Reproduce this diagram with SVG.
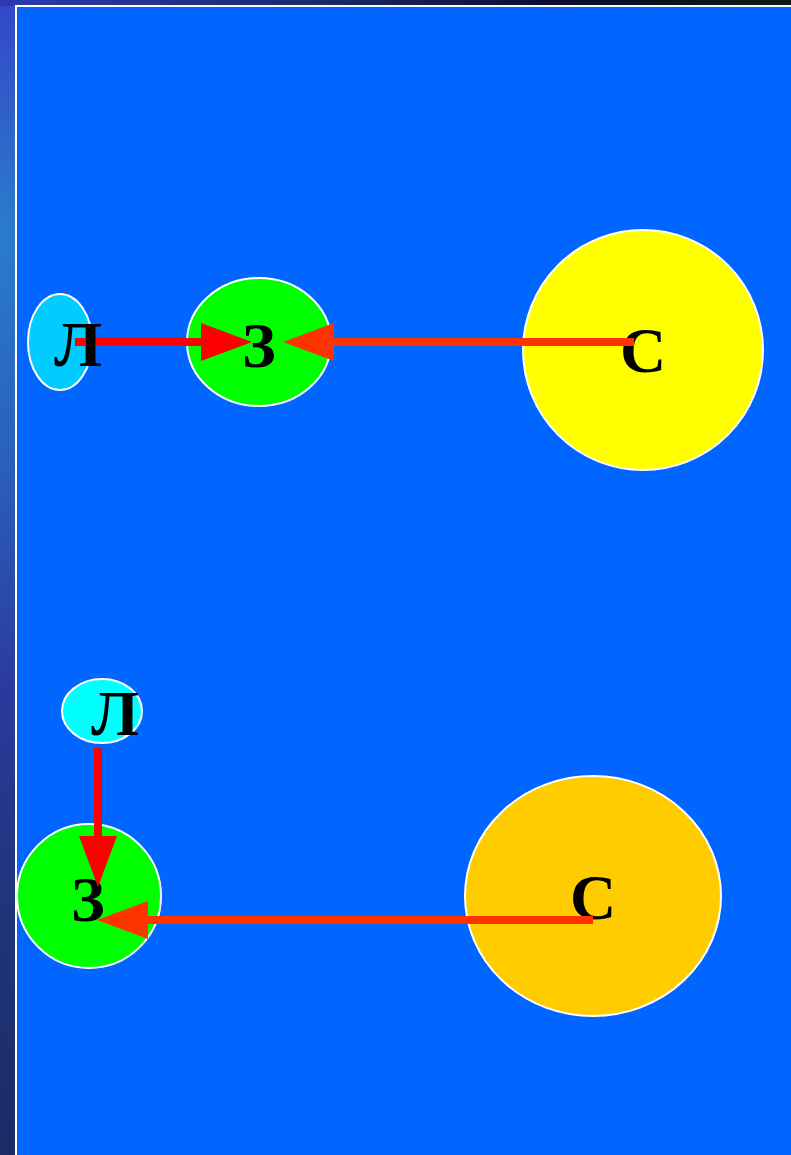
<svg xmlns="http://www.w3.org/2000/svg" width="791" height="1155" viewBox="0 0 791 1155">
  <defs>
    <linearGradient id="leftStrip" x1="0" y1="0" x2="0" y2="1">
      <stop offset="0" stop-color="#3446c8"/>
      <stop offset="0.2" stop-color="#2a7ccc"/>
      <stop offset="0.4" stop-color="#2a60bc"/>
      <stop offset="0.6" stop-color="#2a3a9c"/>
      <stop offset="0.8" stop-color="#1e3478"/>
      <stop offset="1" stop-color="#1c2a66"/>
    </linearGradient>
    <linearGradient id="topStrip" x1="0" y1="0" x2="1" y2="0">
      <stop offset="0" stop-color="#2a3ab0"/>
      <stop offset="0.4" stop-color="#1a2a6a"/>
      <stop offset="0.7" stop-color="#0c0c30"/>
      <stop offset="1" stop-color="#0a1a10"/>
    </linearGradient>
    <marker id="headRed" markerUnits="userSpaceOnUse" markerWidth="52" markerHeight="40" refX="0" refY="19" orient="auto" overflow="visible">
      <path d="M0,0 L51,19 L0,38 z" fill="#FF0000"/>
    </marker>
    <marker id="headOrange" markerUnits="userSpaceOnUse" markerWidth="52" markerHeight="40" refX="0" refY="19" orient="auto" overflow="visible">
      <path d="M0,0 L51,19 L0,38 z" fill="#FF3300"/>
    </marker>
    <style>
      .node { stroke: #FFFFFF; stroke-width: 2; }
      .lbl { font-family: "Liberation Serif", "Times New Roman", serif; font-weight: bold; font-size: 64px; fill: #000000; text-anchor: middle; }
      .red { stroke: #FF0000; stroke-width: 8; fill: none; marker-end: url(#headRed); }
      .orange { stroke: #FF3300; stroke-width: 8; fill: none; marker-end: url(#headOrange); }
    </style>
  </defs>

  <!-- background -->
  <rect x="0" y="0" width="791" height="1155" fill="url(#leftStrip)"/>
  <rect x="0" y="0" width="791" height="6" fill="url(#topStrip)"/>
  <rect x="16" y="6" width="780" height="1155" fill="#0066FF" stroke="#FFFFFF" stroke-width="2"/>

  <g id="node-Z1">
    <ellipse class="node" cx="259" cy="342" rx="72" ry="64" fill="#00FF00"/>
    <text class="lbl" x="259" y="367">З</text>
  </g>
  <g id="node-S1">
    <circle class="node" cx="643" cy="350" r="120" fill="#FFFF00"/>
    <text class="lbl" x="643" y="372">С</text>
  </g>
  <g id="node-L2">
    <ellipse class="node" cx="102" cy="711" rx="40" ry="32" fill="#00FFFF"/>
    <text class="lbl" x="115" y="735">Л</text>
  </g>
  <g id="node-Z2">
    <circle class="node" cx="89" cy="896" r="72" fill="#00FF00"/>
    <text class="lbl" x="88" y="921">З</text>
  </g>
  <g id="node-S2">
    <ellipse class="node" cx="593" cy="896" rx="128" ry="120" fill="#FFCC00"/>
    <text class="lbl" x="593" y="919">С</text>
  </g>

  <g id="connectors">
    <path class="red" d="M75,342 L201,342"/>
    <path class="orange" d="M634,342 L334,342"/>
    <path class="red" d="M98,748 L98,836"/>
    <path class="orange" d="M593,920 L148,920"/>
  </g>

  <g id="node-L1">
    <ellipse class="node" cx="60" cy="342" rx="32" ry="48" fill="#00CCFF"/>
    <text class="lbl" x="78" y="366">Л</text>
    <path d="M75,342 L86,342" stroke="#FF0000" stroke-width="8"/>
  </g>
</svg>
